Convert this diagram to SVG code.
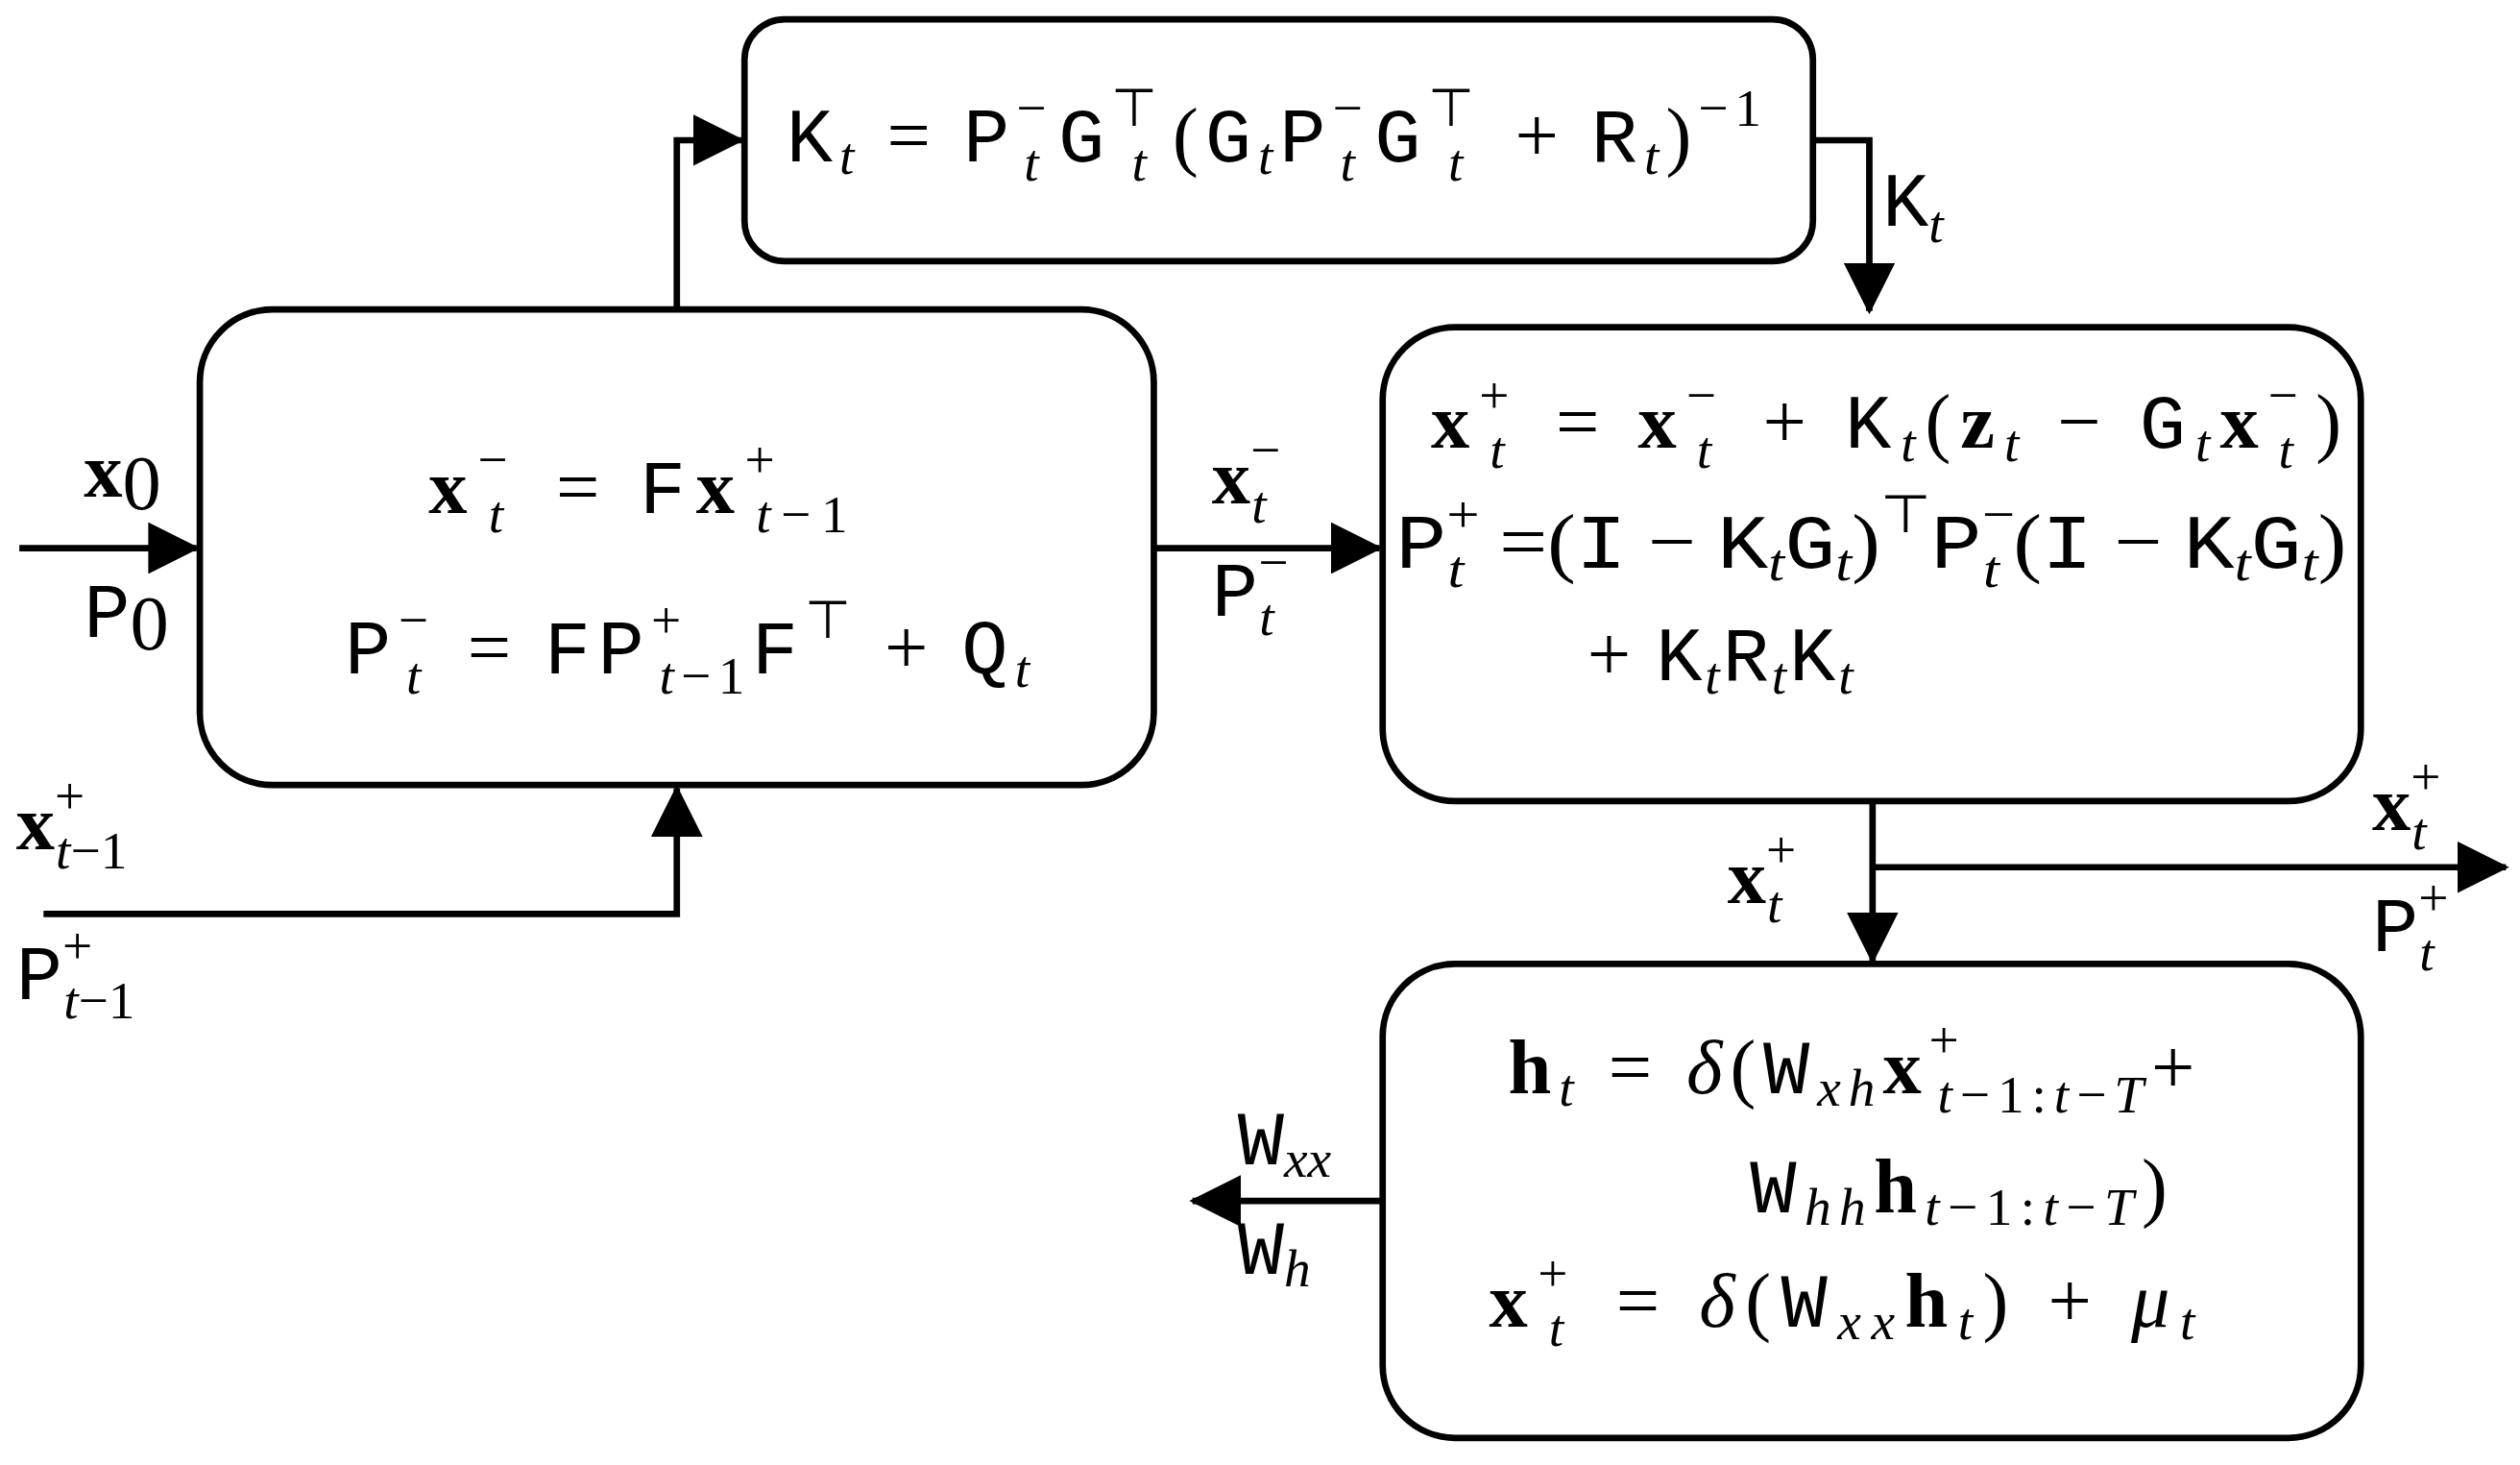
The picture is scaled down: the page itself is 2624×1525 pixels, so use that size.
<svg xmlns="http://www.w3.org/2000/svg" width="2624" height="1525" viewBox="0 0 2624 1525">
<defs>
<style>
.box{fill:#fff;stroke:#000;stroke-width:4}
.c{fill:none;stroke:#000;stroke-width:4}
text{font-family:"Liberation Serif",serif;font-size:48px;fill:#000}
.t{font-family:"Liberation Mono",monospace}
.b{font-weight:bold}
.i{font-style:italic}
.s{font-size:33px}
</style>
<marker id="a" viewBox="0 0 32 32" refX="30" refY="16" markerWidth="32" markerHeight="32" markerUnits="userSpaceOnUse" orient="auto"><path d="M0,0 L32,16 L0,32 z" fill="#000"/></marker>
</defs>
<rect width="2624" height="1525" fill="#fff"/>
<g transform="scale(1.678)">
<g id="connectors">
<path class="c" d="M12,340 H122" marker-end="url(#a)"/>
<path class="c" d="M27,567 H420 V489" marker-end="url(#a)"/>
<path class="c" d="M420,192 V87 H460" marker-end="url(#a)"/>
<path class="c" d="M716,340 H856" marker-end="url(#a)"/>
<path class="c" d="M1125,87 H1160 V193" marker-end="url(#a)"/>
<path class="c" d="M1162,487 V596" marker-end="url(#a)"/>
<path class="c" d="M1162,538 H1555" marker-end="url(#a)"/>
<path class="c" d="M858,745 H740" marker-end="url(#a)"/>
</g>
<g id="labels">
<text x="52" y="308"><tspan class="b">x</tspan><tspan dy="8">0</tspan></text>
<text x="52" y="395"><tspan class="t">P</tspan><tspan dy="8">0</tspan></text>
<text x="10" y="527"><tspan class="b">x</tspan><tspan class="s" dy="-22">+</tspan><tspan class="s i" dx="-18" dy="34">t</tspan><tspan class="s">−1</tspan></text>
<text x="10" y="620"><tspan class="t">P</tspan><tspan class="s" dy="-22">+</tspan><tspan class="s i" dx="-18" dy="34">t</tspan><tspan class="s">−1</tspan></text>
<text x="752" y="312"><tspan class="b">x</tspan><tspan class="s" dy="-22">−</tspan><tspan class="s i" dx="-18" dy="34">t</tspan></text>
<text x="752" y="382"><tspan class="t">P</tspan><tspan class="s" dy="-22">−</tspan><tspan class="s i" dx="-18" dy="34">t</tspan></text>
<text x="1168" y="140"><tspan class="t">K</tspan><tspan class="s i" dy="10">t</tspan></text>
<text x="1072" y="560"><tspan class="b">x</tspan><tspan class="s" dy="-22">+</tspan><tspan class="s i" dx="-18" dy="34">t</tspan></text>
<text x="1472" y="515"><tspan class="b">x</tspan><tspan class="s" dy="-22">+</tspan><tspan class="s i" dx="-18" dy="34">t</tspan></text>
<text x="1472" y="590"><tspan class="t">P</tspan><tspan class="s" dy="-22">+</tspan><tspan class="s i" dx="-18" dy="34">t</tspan></text>
<text x="768" y="722"><tspan class="t">W</tspan><tspan class="s i" dy="8">xx</tspan></text>
<text x="768" y="790"><tspan class="t">W</tspan><tspan class="s i" dy="8">h</tspan></text>
</g>
<g id="kgain">
<rect class="box" x="462" y="12" width="663" height="150" rx="25"/>
<text x="488" y="100" textLength="605" lengthAdjust="spacing"><tspan class="t">K</tspan><tspan class="s i" dy="8">t</tspan><tspan dy="-8"> = </tspan><tspan class="t">P</tspan><tspan class="s" dy="-22">−</tspan><tspan class="s i" dx="-18" dy="34">t</tspan><tspan dx="8" dy="-12" class="t">G</tspan><tspan class="s" dy="-22">⊤</tspan><tspan class="s i" dx="-20" dy="34">t</tspan><tspan dx="12" dy="-12">(</tspan><tspan class="t">G</tspan><tspan class="s i" dy="8">t</tspan><tspan class="t" dy="-8">P</tspan><tspan class="s" dy="-22">−</tspan><tspan class="s i" dx="-18" dy="34">t</tspan><tspan dx="8" dy="-12" class="t">G</tspan><tspan class="s" dy="-22">⊤</tspan><tspan class="s i" dx="-20" dy="34">t</tspan><tspan dx="12" dy="-12"> + </tspan><tspan class="t">R</tspan><tspan class="s i" dy="8">t</tspan><tspan dy="-8">)</tspan><tspan class="s" dy="-22">−1</tspan></text>
</g>
<g id="predict">
<rect class="box" x="124" y="192" width="592" height="295" rx="45"/>
<text x="266" y="318" textLength="260" lengthAdjust="spacing"><tspan class="b">x</tspan><tspan class="s" dy="-22">−</tspan><tspan class="s i" dx="-18" dy="34">t</tspan><tspan dx="8" dy="-12"> = </tspan><tspan class="t">F</tspan><tspan class="b">x</tspan><tspan class="s" dy="-22">+</tspan><tspan class="s i" dx="-18" dy="34">t</tspan><tspan class="s">−1</tspan></text>
<text x="214" y="418" textLength="425" lengthAdjust="spacing"><tspan class="t">P</tspan><tspan class="s" dy="-22">−</tspan><tspan class="s i" dx="-18" dy="34">t</tspan><tspan dx="8" dy="-12"> = </tspan><tspan class="t">FP</tspan><tspan class="s" dy="-22">+</tspan><tspan class="s i" dx="-18" dy="34">t</tspan><tspan class="s">−1</tspan><tspan class="t" dy="-12">F</tspan><tspan class="s" dy="-22">⊤</tspan><tspan dy="22"> + </tspan><tspan class="t">Q</tspan><tspan class="s i" dy="8">t</tspan></text>
</g>
<g id="update">
<rect class="box" x="858" y="203" width="607" height="294" rx="45"/>
<text x="888" y="278" textLength="565" lengthAdjust="spacing"><tspan class="b">x</tspan><tspan class="s" dy="-22">+</tspan><tspan class="s i" dx="-18" dy="34">t</tspan><tspan dx="8" dy="-12"> = </tspan><tspan class="b">x</tspan><tspan class="s" dy="-22">−</tspan><tspan class="s i" dx="-18" dy="34">t</tspan><tspan dx="8" dy="-12"> + </tspan><tspan class="t">K</tspan><tspan class="s i" dy="8">t</tspan><tspan dy="-8">(</tspan><tspan class="b">z</tspan><tspan class="s i" dy="8">t</tspan><tspan dy="-8"> − </tspan><tspan class="t">G</tspan><tspan class="s i" dy="8">t</tspan><tspan class="b" dy="-8">x</tspan><tspan class="s" dy="-22">−</tspan><tspan class="s i" dx="-18" dy="34">t</tspan><tspan dx="8" dy="-12">)</tspan></text>
<text x="866" y="352" textLength="590" lengthAdjust="spacingAndGlyphs"><tspan class="t">P</tspan><tspan class="s" dy="-22">+</tspan><tspan class="s i" dx="-18" dy="34">t</tspan><tspan dx="8" dy="-12"> =(</tspan><tspan class="t">I</tspan><tspan> − </tspan><tspan class="t">K</tspan><tspan class="s i" dy="8">t</tspan><tspan class="t" dy="-8">G</tspan><tspan class="s i" dy="8">t</tspan><tspan dy="-8">)</tspan><tspan class="s" dy="-22">⊤</tspan><tspan class="t" dy="22">P</tspan><tspan class="s" dy="-22">−</tspan><tspan class="s i" dx="-18" dy="34">t</tspan><tspan dx="8" dy="-12">(</tspan><tspan class="t">I</tspan><tspan> − </tspan><tspan class="t">K</tspan><tspan class="s i" dy="8">t</tspan><tspan class="t" dy="-8">G</tspan><tspan class="s i" dy="8">t</tspan><tspan dy="-8">)</tspan></text>
<text x="985" y="422" textLength="165" lengthAdjust="spacing"><tspan>+ </tspan><tspan class="t">K</tspan><tspan class="s i" dy="8">t</tspan><tspan class="t" dy="-8">R</tspan><tspan class="s i" dy="8">t</tspan><tspan class="t" dy="-8">K</tspan><tspan class="s i" dy="8">t</tspan></text>
</g>
<g id="rnn">
<rect class="box" x="858" y="598" width="607" height="294" rx="45"/>
<text x="936" y="678" textLength="426" lengthAdjust="spacing"><tspan class="b">h</tspan><tspan class="s i" dy="8">t</tspan><tspan dy="-8"> = </tspan><tspan class="i">δ</tspan><tspan>(</tspan><tspan class="t">W</tspan><tspan class="s i" dy="8">xh</tspan><tspan class="b" dy="-8">x</tspan><tspan class="s" dy="-22">+</tspan><tspan class="s i" dx="-18" dy="34">t</tspan><tspan class="s">−1:</tspan><tspan class="s i">t</tspan><tspan class="s">−</tspan><tspan class="s i">T</tspan><tspan dy="-12">+</tspan></text>
<text x="1086" y="752" textLength="259" lengthAdjust="spacing"><tspan class="t">W</tspan><tspan class="s i" dy="8">hh</tspan><tspan class="b" dy="-8">h</tspan><tspan class="s i" dy="8">t</tspan><tspan class="s">−1:</tspan><tspan class="s i">t</tspan><tspan class="s">−</tspan><tspan class="s i">T</tspan><tspan dy="-8">)</tspan></text>
<text x="924" y="823" textLength="438" lengthAdjust="spacing"><tspan class="b">x</tspan><tspan class="s" dy="-22">+</tspan><tspan class="s i" dx="-18" dy="34">t</tspan><tspan dx="8" dy="-12"> = </tspan><tspan class="i">δ</tspan><tspan>(</tspan><tspan class="t">W</tspan><tspan class="s i" dy="8">xx</tspan><tspan class="b" dy="-8">h</tspan><tspan class="s i" dy="8">t</tspan><tspan dy="-8">) + </tspan><tspan class="i">μ</tspan><tspan class="s i" dy="8">t</tspan></text>
</g>
</g>
</svg>
